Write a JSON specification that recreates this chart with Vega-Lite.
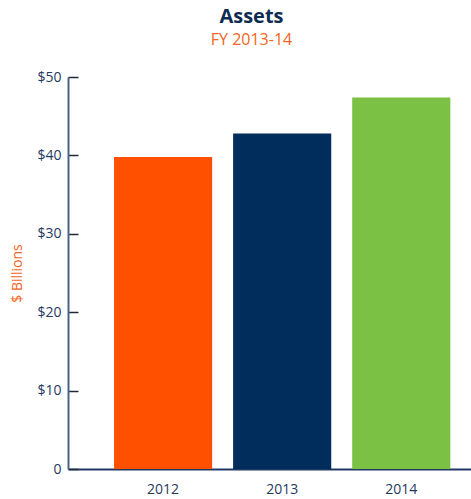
{
  "$schema": "https://vega.github.io/schema/vega-lite/v6.json",
  "autosize": {"type": "none"},
  "width": 403,
  "height": 392,
  "padding": {"left": 68, "top": 77, "right": 0, "bottom": 30},
  "background": "white",
  "title": {
    "text": "Assets",
    "subtitle": "FY 2013-14",
    "anchor": "middle",
    "frame": "group",
    "dx": -18,
    "offset": 22,
    "font": "Open Sans",
    "fontSize": 20,
    "fontWeight": "bold",
    "color": "#0E2B52",
    "subtitleFont": "Open Sans",
    "subtitleFontSize": 16,
    "subtitleColor": "#F26522",
    "subtitlePadding": 5
  },
  "data": {
    "values": [
      {"year": "2012", "assets": 39.8},
      {"year": "2013", "assets": 42.8},
      {"year": "2014", "assets": 47.4}
    ]
  },
  "mark": {"type": "bar"},
  "encoding": {
    "x": {
      "field": "year",
      "type": "nominal",
      "scale": {"paddingInner": 0.176, "paddingOuter": 0.28, "align": 0.69},
      "axis": {
        "title": null,
        "labelAngle": 0,
        "labelFont": "Open Sans",
        "labelFontSize": 14,
        "labelColor": "#1F3A60",
        "labelPadding": 13,
        "ticks": false,
        "domainColor": "#1F3864",
        "domainWidth": 2
      }
    },
    "y": {
      "field": "assets",
      "type": "quantitative",
      "scale": {"domain": [0, 50]},
      "axis": {
        "title": "$ Billions",
        "titleColor": "#F26522",
        "titleFont": "Open Sans",
        "titleFontSize": 14,
        "titleFontWeight": "normal",
        "titlePadding": 12,
        "values": [0, 10, 20, 30, 40, 50],
        "labelExpr": "datum.value == 0 ? '0' : '$' + datum.value",
        "labelFont": "Open Sans",
        "labelFontSize": 14,
        "labelColor": "#1F3A60",
        "labelPadding": 17,
        "grid": false,
        "tickSize": -10,
        "tickColor": "#1F2A3A",
        "tickWidth": 1.5,
        "domainColor": "#4A6486",
        "domainWidth": 2
      }
    },
    "color": {
      "field": "year",
      "type": "nominal",
      "scale": {"domain": ["2012", "2013", "2014"], "range": ["#FF5000", "#002D5C", "#7BC143"]},
      "legend": null
    }
  },
  "config": {"view": {"stroke": null}}
}
